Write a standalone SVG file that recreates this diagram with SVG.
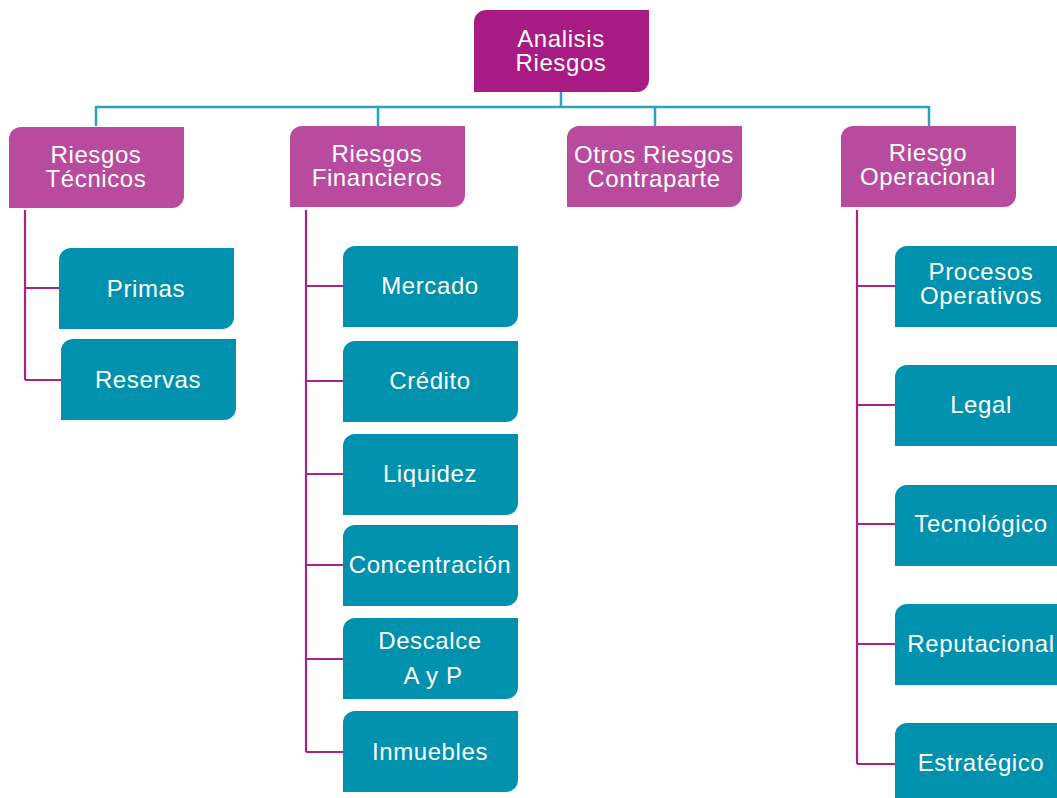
<svg xmlns="http://www.w3.org/2000/svg" xmlns:xlink="http://www.w3.org/1999/xlink" width="1057" height="798" viewBox="0 0 1057 798">
<style>
.t{font-family:"Liberation Sans",Arial,sans-serif;font-size:24px;letter-spacing:0.6px;fill:#ffffff;text-anchor:middle}
.top{fill:#A81A84}
.mid{fill:#B84B9D}
.leaf{fill:#0091AE}
.ct{fill:none;stroke:#2AA3BC;stroke-width:2.5}
.cm{fill:none;stroke:#A8238A;stroke-width:2.2}
</style>
<defs>
<path id="box" d="M12,0 H175 V69 A12,12 0 0 1 163,81 H0 V12 A12,12 0 0 1 12,0 Z"/>
</defs>
<rect width="1057" height="798" fill="#ffffff"/>
<g id="connectors">
<path class="ct" d="M561,92 V107 M96,107 H929 M96,106 V126 M378,106 V126 M655,106 V126 M929,106 V126"/>
<path class="cm" d="M25,210 V380 M25,288 H59 M25,380 H61"/>
<path class="cm" d="M306,210 V752 M306,286 H343 M306,381 H343 M306,474 H343 M306,565 H343 M306,659 H343 M306,752 H343"/>
<path class="cm" d="M857,210 V764 M857,286 H895 M857,405 H895 M857,524 H895 M857,644 H895 M857,764 H895"/>
</g>
<g id="n-analisis"><use xlink:href="#box" class="top" transform="translate(474,10) scale(1,1.012)"/><text class="t" x="561" y="47">Analisis</text><text class="t" x="561" y="71">Riesgos</text></g>
<g id="n-tecnicos"><use xlink:href="#box" class="mid" x="9" y="127"/><text class="t" x="96" y="163">Riesgos</text><text class="t" x="96" y="187">Técnicos</text></g>
<g id="n-financieros"><use xlink:href="#box" class="mid" x="290" y="126"/><text class="t" x="377" y="162">Riesgos</text><text class="t" x="377" y="186">Financieros</text></g>
<g id="n-otros"><use xlink:href="#box" class="mid" x="567" y="126"/><text class="t" x="654" y="163">Otros Riesgos</text><text class="t" x="654" y="187">Contraparte</text></g>
<g id="n-operacional"><use xlink:href="#box" class="mid" x="841" y="126"/><text class="t" x="928" y="161">Riesgo</text><text class="t" x="928" y="185">Operacional</text></g>
<g id="n-primas"><use xlink:href="#box" class="leaf" x="59" y="248"/><text class="t" x="146" y="297">Primas</text></g>
<g id="n-reservas"><use xlink:href="#box" class="leaf" x="61" y="339"/><text class="t" x="148" y="388">Reservas</text></g>
<g id="n-mercado"><use xlink:href="#box" class="leaf" x="343" y="246"/><text class="t" x="430" y="294">Mercado</text></g>
<g id="n-credito"><use xlink:href="#box" class="leaf" x="343" y="341"/><text class="t" x="430" y="389">Crédito</text></g>
<g id="n-liquidez"><use xlink:href="#box" class="leaf" x="343" y="434"/><text class="t" x="430" y="482">Liquidez</text></g>
<g id="n-concentracion"><use xlink:href="#box" class="leaf" x="343" y="525"/><text class="t" x="430" y="573">Concentración</text></g>
<g id="n-descalce"><use xlink:href="#box" class="leaf" x="343" y="618"/><text class="t" x="430" y="649">Descalce</text><text class="t" x="433" y="684">A y P</text></g>
<g id="n-inmuebles"><use xlink:href="#box" class="leaf" x="343" y="711"/><text class="t" x="430" y="760">Inmuebles</text></g>
<g id="n-procesos"><use xlink:href="#box" class="leaf" x="895" y="246"/><text class="t" x="981" y="280">Procesos</text><text class="t" x="981" y="304">Operativos</text></g>
<g id="n-legal"><use xlink:href="#box" class="leaf" x="895" y="365"/><text class="t" x="981" y="413">Legal</text></g>
<g id="n-tecnologico"><use xlink:href="#box" class="leaf" x="895" y="485"/><text class="t" x="981" y="532">Tecnológico</text></g>
<g id="n-reputacional"><use xlink:href="#box" class="leaf" x="895" y="604"/><text class="t" x="981" y="652">Reputacional</text></g>
<g id="n-estrategico"><use xlink:href="#box" class="leaf" x="895" y="723"/><text class="t" x="981" y="771">Estratégico</text></g>
</svg>
